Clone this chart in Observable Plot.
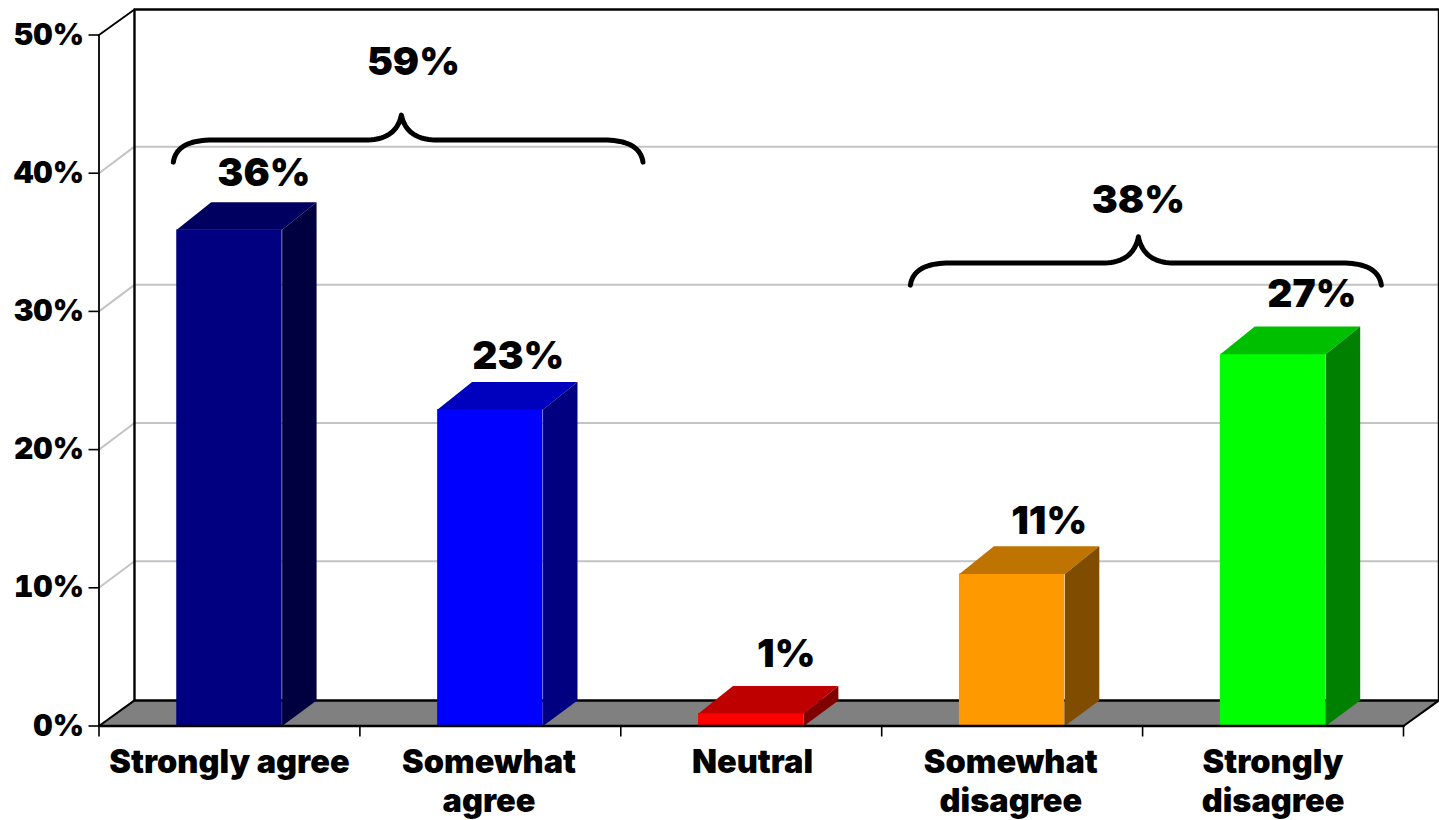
<!DOCTYPE html>
<html><head><meta charset="utf-8">
<style>html,body{margin:0;padding:0;background:#fff;overflow:hidden}svg{display:block}</style>
<script src="https://cdn.jsdelivr.net/npm/d3@7"></script>
<script src="https://cdn.jsdelivr.net/npm/@observablehq/plot@0.6"></script>
</head><body>
<script>
const categories = ["Strongly agree", "Somewhat\nagree", "Neutral", "Somewhat\ndisagree", "Strongly\ndisagree"];
const values = [35.9, 22.9, 0.9, 11, 26.9];
const labels = ["36%", "23%", "1%", "11%", "27%"];
const frontColors = ["#000080", "#0000ff", "#ff0000", "#ff9900", "#00ff00"];
const topColors = ["#000060", "#0000bf", "#bf0000", "#bf7300", "#00bf00"];
const sideColors = ["#000040", "#000080", "#800000", "#804d00", "#008000"];
const yTicks = [0, 10, 20, 30, 40, 50];
const groupLabels = ["59%", "38%"];

// layout, in the chart's own units
const depthX = 0.136, depthY = 1.85, gridDepthY = 1.92, barDepthX = 0.132, barDepthY = 2.0, barHalf = 0.202;
const labelNudgeX = [0.132, 0.107, 0.134, 0.142, 0.149];
const labelNudgeY = [4.08, 3.8, 4.27, 3.8, 4.3];
const catNudgeX = [0, -0.005, 0.005, -0.005, 0];
const FONT = "Inter, sans-serif";

const bars = values.map((v, i) => ({i, v, x1: i + 0.5 - barHalf, x2: i + 0.5 + barHalf}));
const poly = (id, fill, pts) => pts.map(([x, y]) => ({id, fill, x, y}));
const tops = bars.flatMap(b => poly("t" + b.i, topColors[b.i], [[b.x1, b.v], [b.x1 + barDepthX, b.v + barDepthY], [b.x2 + barDepthX, b.v + barDepthY], [b.x2, b.v]]));
const sides = bars.flatMap(b => poly("s" + b.i, sideColors[b.i], [[b.x2, 0], [b.x2, b.v], [b.x2 + barDepthX, b.v + barDepthY], [b.x2 + barDepthX, depthY]]));
const floor = poly("floor", "#808080", [[0, 0], [depthX, depthY], [5 + depthX, depthY], [5, 0]]);
const grid = yTicks.slice(1, 5).flatMap(v => [[0, v], [depthX, v + gridDepthY], [5 + depthX, v + gridDepthY]].map(([x, y]) => ({v, x, y})));

function brace(left, right, mid, base, tip, end) {
  const w = 0.15, t = 0.138;
  const q = (a, c, b) => d3.range(0, 1.001, 0.05).map(s => [(1-s)*(1-s)*a[0] + 2*s*(1-s)*c[0] + s*s*b[0], (1-s)*(1-s)*a[1] + 2*s*(1-s)*c[1] + s*s*b[1]]);
  return [
    ...q([left, end], [left + 0.012, base], [left + w, base]),
    ...q([mid - t, base], [mid - 0.02, base], [mid, tip]),
    ...q([mid, tip], [mid + 0.02, base], [mid + t, base]),
    ...q([right - w, base], [right - 0.012, base], [right, end])
  ].map(([x, y]) => ({x, y}));
}
const braceA = brace(0.285, 2.085, 1.159, 42.4, 44.2, 40.8);
const braceB = brace(3.11, 4.915, 3.984, 33.5, 35.4, 31.9);

const frame = (pts, o = {}) => Plot.line(pts.map(([x, y]) => ({x, y})), {x: "x", y: "y", stroke: "#000", strokeWidth: 2.2, ...o});

const chart = Plot.plot({
  width: 1439, height: 820,
  marginLeft: 98.5, marginRight: 36, marginTop: 34.5, marginBottom: 94.5,
  x: {domain: [0, 5], axis: null},
  y: {domain: [0, 50], axis: null},
  style: {fontFamily: FONT, fontWeight: 900, background: "#fff", color: "#000", overflow: "visible"},
  marks: [
    Plot.line(grid, {x: "x", y: "y", z: "v", stroke: "#c4c4c4", strokeWidth: 2}),
    Plot.line(floor, {x: "x", y: "y", z: "id", fill: "fill", stroke: "none", curve: "linear-closed"}),
    frame([[depthX, depthY], [depthX, 50 + depthY], [5 + depthX, 50 + depthY], [5 + depthX, depthY], [depthX, depthY]], {strokeWidth: 2.4}),
    frame([[0, 50], [depthX, 50 + depthY]], {strokeWidth: 1.8}),
    frame([[0, 0], [depthX, depthY]], {strokeWidth: 2}),
    frame([[5, 0], [5 + depthX, depthY]], {strokeWidth: 2}),
    Plot.rect(bars, {x1: "x1", x2: "x2", y1: 0, y2: "v", fill: d => frontColors[d.i]}),
    Plot.line(tops, {x: "x", y: "y", z: "id", fill: "fill", stroke: "none", curve: "linear-closed"}),
    Plot.line(sides, {x: "x", y: "y", z: "id", fill: "fill", stroke: "none", curve: "linear-closed"}),
    frame([[0, 0], [0, 50]], {strokeWidth: 1.8}),
    frame([[0, 0], [5, 0]], {strokeWidth: 2.4}),
    Plot.axisY({ticks: yTicks, tickSize: 10, tickPadding: 5, label: null, tickFormat: d => d + "%", fontSize: 30, fontWeight: 900, strokeWidth: 1.6}),
    Plot.axisX({ticks: d3.range(6), tickSize: 11, label: null, tickFormat: () => "", strokeWidth: 1.6}),
    Plot.text(categories, {x: (d, i) => i + 0.5 + catNudgeX[i], y: 0, text: d => d, dy: 19, lineAnchor: "top", lineHeight: 1.2, fontSize: 32.5, fontWeight: 900, fill: "#000"}),
    Plot.line(braceA, {x: "x", y: "y", stroke: "#000", strokeWidth: 5, strokeLinejoin: "round"}),
    Plot.line(braceB, {x: "x", y: "y", stroke: "#000", strokeWidth: 5, strokeLinejoin: "round"}),
    Plot.text(labels, {x: (d, i) => i + 0.5 + labelNudgeX[i], y: (d, i) => values[i] + labelNudgeY[i], text: d => d, fontSize: 39, fontWeight: 900, fill: "#000"}),
    Plot.text(groupLabels, {x: (d, i) => [1.205, 3.984][i], y: (d, i) => [48, 38][i], text: d => d, fontSize: 39, fontWeight: 900, fill: "#000"})
  ]
});
document.body.append(chart);
</script>
</body></html>
